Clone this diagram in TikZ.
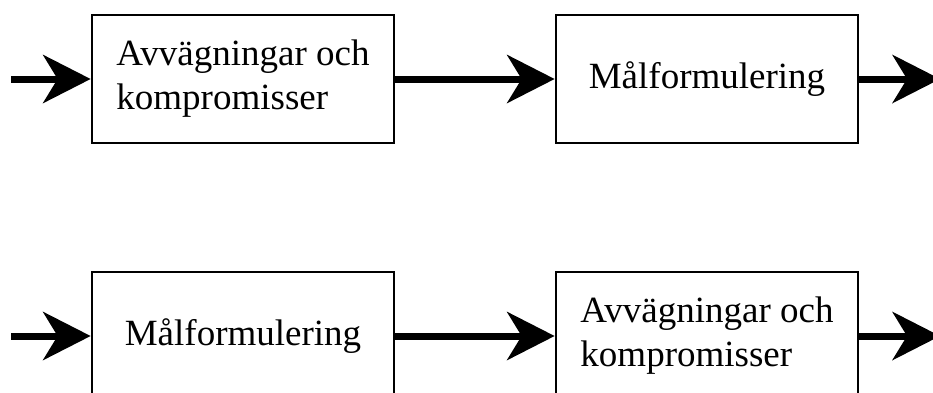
\documentclass[tikz,border=0pt]{standalone}
\usepackage{fontspec}
\setmainfont{Liberation Serif}
\usetikzlibrary{arrows.meta}
\tikzset{
  blk/.style={draw=black, line width=2.8pt, minimum width=302pt, minimum height=128pt,
    inner sep=0pt, align=left, font=\fontsize{37}{44}\selectfont},
  flow/.style={line width=7pt, -{Stealth[length=48pt,width=49pt,inset=15pt,line width=0pt]}}
}
\begin{document}
\begin{tikzpicture}[x=1pt,y=-1pt]
\useasboundingbox (0,0) rectangle (933,392);
% top row
\node[blk] (a1) at (243,79) {Avvägningar och\\kompromisser};
\node[blk] (a2) at (707,79) {Målformulering};
\coordinate (ain) at (11,79);
\coordinate (aout) at (940,79);
\draw[flow] (ain) -- (a1.west);
\draw[flow] (a1.east) -- (a2.west);
\draw[flow] (a2.east) -- (aout);
% bottom row
\node[blk] (b1) at (243,336) {Målformulering};
\node[blk] (b2) at (707,336) {Avvägningar och\\kompromisser};
\coordinate (bin) at (11,336);
\coordinate (bout) at (940,336);
\draw[flow] (bin) -- (b1.west);
\draw[flow] (b1.east) -- (b2.west);
\draw[flow] (b2.east) -- (bout);
\end{tikzpicture}
\end{document}
